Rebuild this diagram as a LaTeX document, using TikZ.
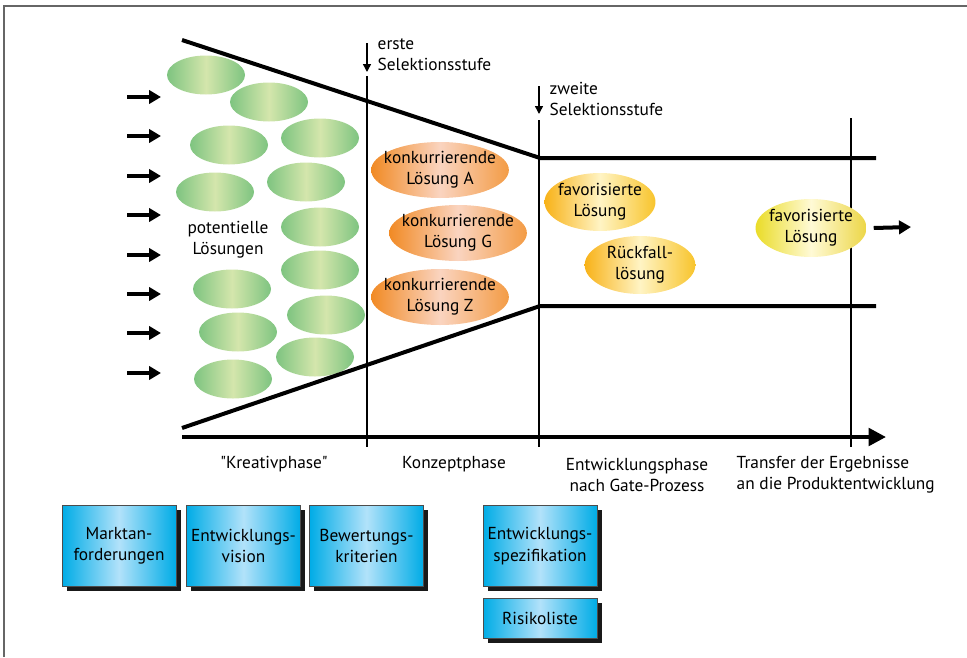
\documentclass[tikz,border=0pt]{standalone}
\usepackage{fontspec}
\setmainfont{PT Sans}
\newfontfamily\geradefont{PT Sans}[Ligatures=TeXOff]
\usetikzlibrary{arrows.meta,shapes.geometric,shadows}
\definecolor{gruenR}{RGB}{126,196,128}
\definecolor{gruenM}{RGB}{212,230,172}
\definecolor{orangeR}{RGB}{241,138,36}
\definecolor{orangeM}{RGB}{250,212,192}
\definecolor{gelbL}{RGB}{248,178,24}
\definecolor{gelbM}{RGB}{255,244,196}
\definecolor{gelbR}{RGB}{248,196,44}
\definecolor{zitronL}{RGB}{234,220,40}
\definecolor{zitronM}{RGB}{255,250,214}
\definecolor{zitronR}{RGB}{236,214,70}
\definecolor{blauR}{RGB}{0,172,230}
\definecolor{blauM}{RGB}{178,226,250}
\begin{document}
\begin{tikzpicture}[x=.75pt,y=-.75pt,line cap=butt,line join=miter,
  font=\fontsize{13}{16}\selectfont,
  dick/.style={line width=3pt},
  duenn/.style={line width=1.1pt},
  pfeil/.style={dick,-{Triangle[length=9pt,width=10pt]}},
  stufe/.style={duenn,-{Triangle[length=6pt,width=6pt]}},
  idee/.style={ellipse,minimum width=58.5pt,minimum height=29.25pt,inner sep=0pt,
    left color=gruenR,right color=gruenR,middle color=gruenM},
  konzept/.style={ellipse,minimum width=101pt,minimum height=42pt,inner ysep=0pt,inner xsep=-5.5pt,align=center,
    left color=orangeR,right color=orangeR!85,middle color=orangeM},
  favorit/.style={ellipse,minimum width=83pt,minimum height=43.5pt,inner ysep=0pt,inner xsep=-2pt,align=center,
    left color=gelbL,right color=gelbR,middle color=gelbM},
  dokument/.style={draw=black!70,line width=.6pt,minimum width=85.5pt,align=center,inner sep=0pt,
    left color=blauR,right color=blauR,middle color=blauM,
    drop shadow={shadow xshift=3.5pt,shadow yshift=-3.5pt,opacity=1,fill=black!90}},
  phase/.style={align=center}]
\useasboundingbox (0,0) rectangle (967,657);
% Rahmen
\draw[black!60,line width=1.1pt] (4,657)--(4,6)--(967,6);
% potentielle Loesungen
\foreach \x/\y [count=\i] in {206/75,269/102,229/145,320/138,215/192,306/182,320/227,
  320/270,232/289,326/315,238/332,315/357,233/379}
  \node[idee] (idee\i) at (\x,\y) {};
\node[align=center] (potentiell) at (228,240) {potentielle\\Lösungen};
% Eingangspfeile
\foreach \y in {97,136,176,215,255,294,333,373}
  \draw[pfeil] (127,\y)--(161,\y);
% Phasengrenzen
\draw[duenn] (367,76)--(367,447);
\draw[duenn] (539,120)--(539,447);
\draw[duenn] (851,118)--(851,447);
% Trichter
\draw[dick] (182,40)--(540,158)--(876,158);
\draw[dick] (182,428)--(540,306)--(876,306);
\draw[dick,-{Triangle[length=13pt,width=13pt]}] (182,437)--(886,437);
% Selektionsstufen
\draw[stufe] (367,43)--(367,72);
\node[anchor=west,align=left] (erste) at (373,55) {erste\\Selektionsstufe};
\draw[stufe] (539,86)--(539,114);
\node[anchor=west,align=left] (zweite) at (545,99) {zweite\\Selektionsstufe};
% Konzepte
\node[konzept] (losA) at (440,170) {konkurrierende\\Lösung A};
\node[konzept] (losG) at (458,233) {konkurrierende\\Lösung G};
\node[konzept] (losZ) at (440,297) {konkurrierende\\Lösung Z};
\node[favorit] (fav) at (600,202) {favorisierte\\Lösung};
\node[favorit] (rueck) at (640,265) {Rückfall-\\lösung};
\node[favorit,left color=zitronL,right color=zitronR,middle color=zitronM] (favEnd) at (811,228) {favorisierte\\Lösung};
\coordinate (ausgang) at (911,227);
\draw[pfeil] (favEnd.east)++(7,0) -- (ausgang);
% Phasen
\node[phase,font=\fontsize{13}{16}\geradefont] (kreativ) at (274,464) {"Kreativphase"};
\node[phase] (konzeptph) at (454,464) {Konzeptphase};
\node[phase] (entwph) at (637,475) {Entwicklungsphase\\nach Gate-Prozess};
\node[anchor=west,align=left] (transfer) at (732,475) {Transfer der Ergebnisse\\an die Produktentwicklung};
% Dokumente
\node[dokument,minimum height=60.75pt] (markt) at (119,546) {Marktan-\\forderungen};
\node[dokument,minimum height=60.75pt] (vision) at (243.5,546) {Entwicklungs-\\vision};
\node[dokument,minimum height=60.75pt] (kriterien) at (366.5,546) {Bewertungs-\\kriterien};
\node[dokument,minimum height=60.75pt] (spez) at (540,546) {Entwicklungs-\\spezifikation};
\node[dokument,minimum height=30pt] (risiko) at (540,618) {Risikoliste};
\end{tikzpicture}
\end{document}
